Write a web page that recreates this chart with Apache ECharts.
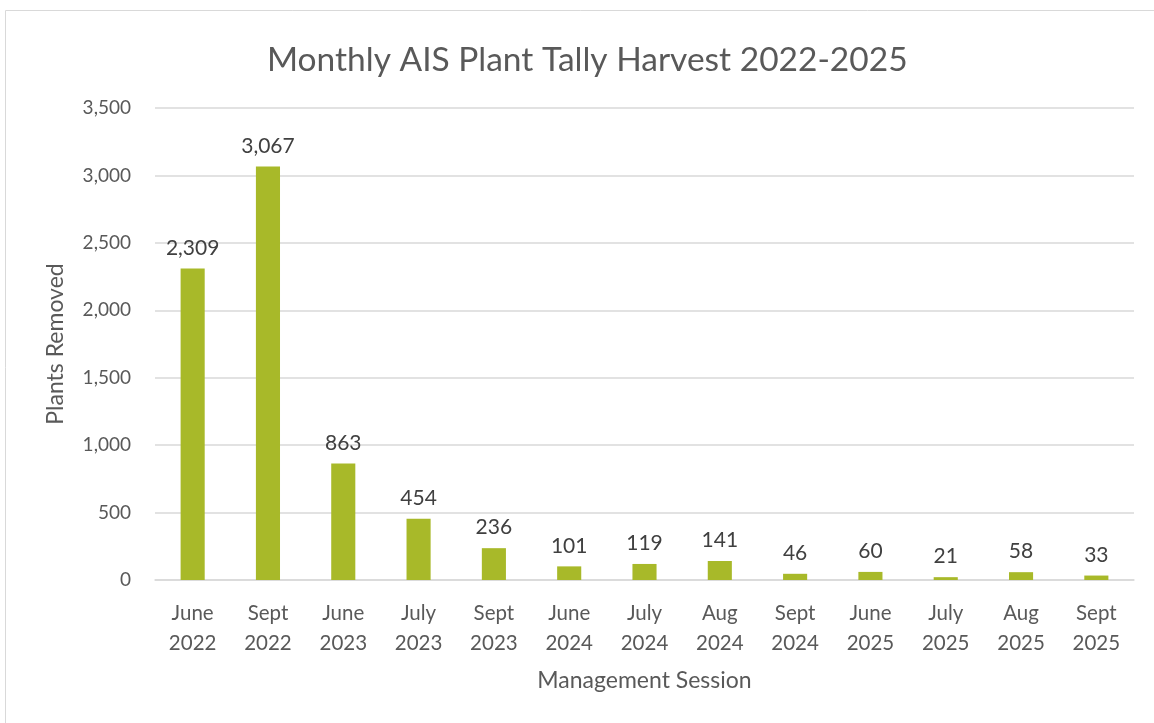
<!DOCTYPE html>
<html><head><meta charset="utf-8">
<script src="https://cdn.jsdelivr.net/npm/echarts@6/dist/echarts.min.js"></script>
<style>html,body{margin:0;padding:0;background:#fff;}#c{width:1154px;height:723px;}</style>
</head><body><div id="c"></div>
<script>
const categories = ["June\n2022","Sept\n2022","June\n2023","July\n2023","Sept\n2023","June\n2024","July\n2024","Aug\n2024","Sept\n2024","June\n2025","July\n2025","Aug\n2025","Sept\n2025"];
const plantsRemoved = [2309,3067,863,454,236,101,119,141,46,60,21,58,33];
const yTicks = {min:0, max:3500, interval:500};
const FONT = "Lato, 'Open Sans', sans-serif";
const chart = echarts.init(document.getElementById('c'));
chart.setOption({
  animation:false,
  textStyle:{fontFamily:FONT},
  title:{text:"Monthly AIS Plant Tally Harvest 2022-2025", left:262, top:38,
    textStyle:{fontFamily:FONT, fontSize:33.5, fontWeight:'normal', color:'#595959'}},
  graphic:[{type:'rect', shape:{x:5.5,y:10.5,width:1160,height:730}, style:{fill:'none',stroke:'#d9d9d9',lineWidth:1}, silent:true, z:-1}],
  grid:{left:155, right:20, top:108, bottom:143},
  xAxis:{type:'category', data:categories,
    axisLine:{lineStyle:{color:'#d9d9d9', width:1.5}}, axisTick:{show:false},
    axisLabel:{color:'#595959', fontSize:20.5, lineHeight:30, margin:18, fontFamily:FONT},
    name:"Management Session", nameLocation:'middle', nameGap:89,
    nameTextStyle:{color:'#595959', fontSize:23, fontFamily:FONT}},
  yAxis:{type:'value', min:yTicks.min, max:yTicks.max, interval:yTicks.interval,
    axisLine:{show:false}, axisTick:{show:false},
    splitLine:{lineStyle:{color:'#d9d9d9', width:1.5}},
    axisLabel:{color:'#595959', fontSize:19, margin:24, fontFamily:FONT,
      formatter:v=>v.toLocaleString('en-US')},
    name:"Plants Removed", nameLocation:'middle', nameGap:88,
    nameTextStyle:{color:'#595959', fontSize:23, fontFamily:FONT}},
  series:[{type:'bar', data:plantsRemoved, barWidth:'32%',
    itemStyle:{color:'#A8B929'},
    label:{show:true, position:'top', distance:10, color:'#404040', fontSize:21, fontFamily:FONT,
      formatter:p=>p.value.toLocaleString('en-US')}}]
});
</script></body></html>
